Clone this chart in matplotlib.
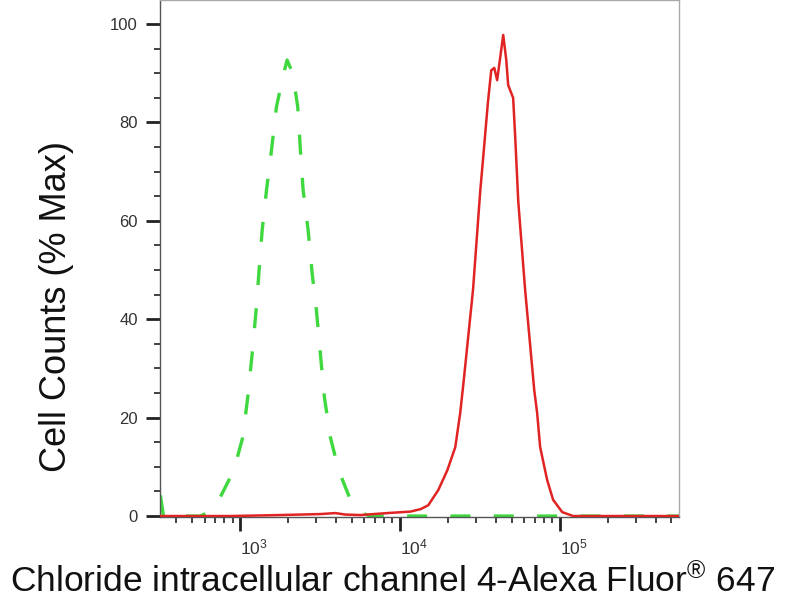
import matplotlib
matplotlib.use("Agg")
import matplotlib.pyplot as plt
from matplotlib.ticker import FixedLocator, FixedFormatter, LogLocator, NullFormatter, MultipleLocator

plt.rcParams['font.family'] = ['Liberation Sans', 'DejaVu Sans']
plt.rcParams['mathtext.fontset'] = 'custom'
plt.rcParams['mathtext.rm'] = 'Liberation Sans'
plt.rcParams['mathtext.it'] = 'Liberation Sans:italic'
plt.rcParams['mathtext.bf'] = 'Liberation Sans:bold'

# Isotype control (green dashed)
green_x = [318, 332, 566, 638, 755, 915, 1041, 1119, 1192, 1262, 1314, 1377, 1466,
           1575, 1692, 1878, 1972, 2138, 2298, 2388, 2483, 2669, 2827, 3006, 3184,
           3373, 3678, 4145, 4909, 5807, 6540, 558500]
green_y = [4.2, 0, 0, 0.8, 3.9, 9.3, 16, 24.2, 33, 41.9, 49.5, 58.1, 66.3,
           74.4, 83.2, 90, 92.7, 90, 83.2, 74.4, 66.3, 58.1, 49.4, 41.9, 33,
           24.2, 16, 9.3, 3.3, 0.6, 0, 0]

# Sample (red solid)
red_x = [318, 873, 1790, 3184, 3954, 4560, 5662, 8356, 11640, 13500, 15070, 17420, 19820,
         22230, 23880, 25120, 28710, 31840, 33420, 35560, 37330, 38990, 40640,
         44360, 46340, 47640, 51170, 52720, 55080, 60810, 69340, 72280, 75510,
         83560, 91000, 103750, 121340, 558500]
red_y = [0, 0, 0.2, 0.4, 0.6, 0.3, 0.2, 0.6, 0.9, 1.4, 2.2, 5.3, 9.3,
         14, 21, 27.6, 46, 66, 73.8, 84, 90.6, 91.1, 88.6,
         97.8, 92.7, 87.6, 85, 77, 64, 46, 25.6, 21, 14,
         7.3, 3.3, 0.8, 0, 0]

y_ticks = [0, 20, 40, 60, 80, 100]
x_ticks = [1e3, 1e4, 1e5]
x_tick_labels = [r'$\mathregular{10^{3}}$', r'$\mathregular{10^{4}}$', r'$\mathregular{10^{5}}$']

fig = plt.figure(figsize=(8, 6), dpi=100)
ax = fig.add_axes([0.2, 0.1383, 0.64875, 0.8617])

ax.plot(green_x, green_y, color='#3fd83f', lw=2.4, linestyle=(0, (6, 7)), zorder=2,
        solid_capstyle='butt', dash_capstyle='butt')
ax.plot(red_x, red_y, color='#e02323', lw=1.8, zorder=3)

ax.set_xscale('log')
ax.set_xlim(316, 558000)
ax.set_ylim(-0.2, 104.9)

ax.xaxis.set_major_locator(FixedLocator(x_ticks))
ax.xaxis.set_major_formatter(FixedFormatter(x_tick_labels))
ax.xaxis.set_minor_locator(LogLocator(base=10, subs=[2, 3, 4, 5, 6, 7, 8, 9], numticks=20))
ax.xaxis.set_minor_formatter(NullFormatter())

ax.yaxis.set_major_locator(FixedLocator(y_ticks))
ax.yaxis.set_minor_locator(MultipleLocator(5))

ax.tick_params(axis='both', which='major', direction='out', length=10, width=2,
               color='#222222', labelcolor='#333333')
ax.tick_params(axis='both', which='minor', direction='out', length=4.5, width=1.2,
               color='#222222')
ax.tick_params(axis='y', which='major', labelsize=12, pad=6)
ax.tick_params(axis='x', which='major', labelsize=12.5, pad=5)
for lbl in ax.get_xticklabels():
    lbl.set_horizontalalignment('left')

for side in ['left', 'bottom']:
    ax.spines[side].set_color('#555555')
    ax.spines[side].set_linewidth(1.0)
for side in ['top', 'right']:
    ax.spines[side].set_color('#aaaaaa')
    ax.spines[side].set_linewidth(1.0)

ax.set_ylabel('Cell Counts (% Max)', fontsize=26, color='#111111')
ax.yaxis.set_label_coords(-0.166, 0.407)

fig.text(0.491, 1 - 592 / 600, r'Chloride intracellular channel 4-Alexa Fluor$^{\circledR}$ 647',
         fontsize=25.5, ha='center', va='baseline', color='#111111')

fig.savefig('out.png', dpi=100)
